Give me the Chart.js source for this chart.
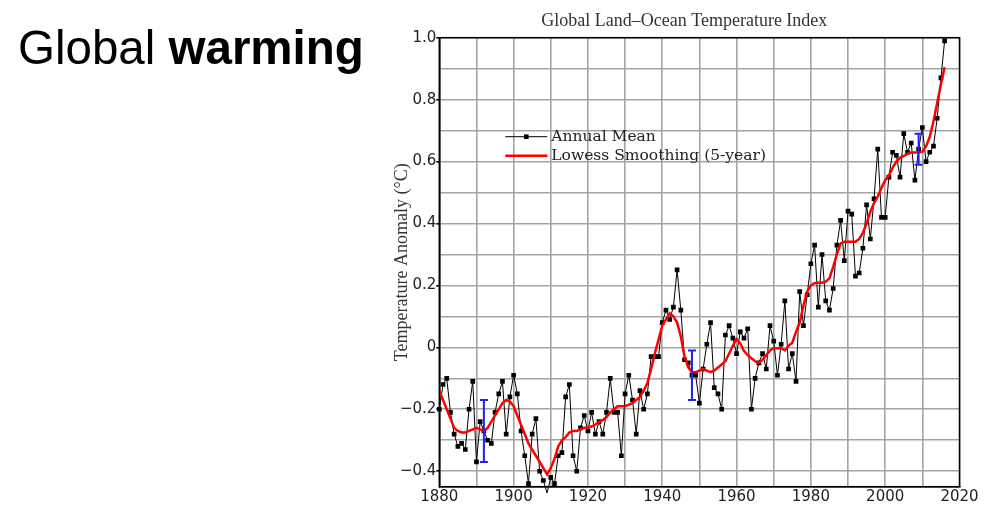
<!DOCTYPE html>
<html>
<head>
<meta charset="utf-8">
<script src="https://cdn.jsdelivr.net/npm/chart.js@4.4.1/dist/chart.umd.min.js"></script>
<style>
body { margin: 0; background: #fff; }
#wrap { position: relative; width: 986px; height: 515px; }
canvas { position: absolute; left: 0; top: 0; }
#heading { position: absolute; left: 18px; top: 24px; font-family: "Liberation Sans", Arial, sans-serif;
  font-size: 47.5px; line-height: 47px; color: #000; white-space: nowrap; }
</style>
</head>
<body>
<div id="wrap">
<canvas id="chart" width="986" height="515"></canvas>
<div id="heading">Global <b>warming</b></div>
</div>
<script>
// GISS global land-ocean temperature index, anomaly in deg C, 1880..2016
const firstYear = 1880;
const annualMean = [
  -0.20, -0.12, -0.10, -0.21, -0.28, -0.32, -0.31, -0.33, -0.20, -0.11, // 1880s
  -0.37, -0.24, -0.27, -0.30, -0.31, -0.21, -0.15, -0.11, -0.28, -0.16, // 1890s
  -0.09, -0.15, -0.27, -0.35, -0.44, -0.28, -0.23, -0.40, -0.43, -0.47, // 1900s
  -0.42, -0.44, -0.35, -0.34, -0.16, -0.12, -0.35, -0.40, -0.26, -0.22, // 1910s
  -0.27, -0.21, -0.28, -0.24, -0.28, -0.21, -0.10, -0.21, -0.21, -0.35, // 1920s
  -0.15, -0.09, -0.17, -0.28, -0.14, -0.20, -0.15, -0.03, -0.03, -0.03, // 1930s
  0.08, 0.12, 0.09, 0.13, 0.25, 0.12, -0.04, -0.05, -0.09, -0.09,       // 1940s
  -0.18, -0.07, 0.01, 0.08, -0.13, -0.15, -0.20, 0.04, 0.07, 0.03,      // 1950s
  -0.02, 0.05, 0.03, 0.06, -0.20, -0.10, -0.05, -0.02, -0.07, 0.07,     // 1960s
  0.02, -0.09, 0.01, 0.15, -0.07, -0.02, -0.11, 0.18, 0.07, 0.17,       // 1970s
  0.27, 0.33, 0.13, 0.30, 0.15, 0.12, 0.19, 0.33, 0.41, 0.28,           // 1980s
  0.44, 0.43, 0.23, 0.24, 0.32, 0.46, 0.35, 0.48, 0.64, 0.42,           // 1990s
  0.42, 0.55, 0.63, 0.62, 0.55, 0.69, 0.63, 0.66, 0.54, 0.64,           // 2000s
  0.71, 0.60, 0.63, 0.65, 0.74, 0.87, 0.99                              // 2010s
];
const lowess5 = [
  -0.14, -0.17, -0.20, -0.23, -0.26, -0.27, -0.275, -0.275, -0.27, -0.265,
  -0.26, -0.265, -0.27, -0.26, -0.24, -0.22, -0.20, -0.18, -0.17, -0.175,
  -0.19, -0.22, -0.25, -0.28, -0.31, -0.33, -0.35, -0.37, -0.39, -0.41,
  -0.39, -0.36, -0.32, -0.30, -0.29, -0.275, -0.27, -0.27, -0.265, -0.26,
  -0.26, -0.255, -0.25, -0.24, -0.235, -0.225, -0.21, -0.20, -0.19, -0.19,
  -0.19, -0.185, -0.18, -0.17, -0.16, -0.14, -0.115, -0.07, -0.02, 0.025,
  0.07, 0.09, 0.11, 0.10, 0.08, 0.035, -0.03, -0.065, -0.08, -0.08,
  -0.075, -0.07, -0.075, -0.08, -0.075, -0.065, -0.055, -0.045, -0.02, 0.005,
  0.027, 0.013, -0.012, -0.025, -0.035, -0.045, -0.05, -0.04, -0.025, -0.01,
  -0.003, -0.003, -0.003, -0.01, 0.005, 0.015, 0.05, 0.08, 0.135, 0.18,
  0.20, 0.207, 0.209, 0.209, 0.212, 0.223, 0.26, 0.30, 0.336, 0.341,
  0.341, 0.341, 0.341, 0.35, 0.37, 0.40, 0.438, 0.466, 0.487, 0.515,
  0.54, 0.555, 0.58, 0.60, 0.612, 0.618, 0.625, 0.629, 0.629, 0.629,
  0.632, 0.649, 0.68, 0.73, 0.79, 0.85, 0.905
];
// uncertainty bars
const errYears = [1892, 1948, 2009];
const errLow = [-0.37, -0.17, 0.59];
const errHigh = [-0.17, -0.01, 0.69];

const xGrid = [1880, 1890, 1900, 1910, 1920, 1930, 1940, 1950, 1960, 1970, 1980, 1990, 2000, 2010, 2020];
const xLabels = [1880, 1900, 1920, 1940, 1960, 1980, 2000, 2020];
const yGrid = [-0.4, -0.3, -0.2, -0.1, 0, 0.1, 0.2, 0.3, 0.4, 0.5, 0.6, 0.7, 0.8, 0.9, 1.0];
const yLabels = [-0.4, -0.2, 0, 0.2, 0.4, 0.6, 0.8, 1.0];

const chartTitle = 'Global Land\u2013Ocean Temperature Index';
const yTitle = 'Temperature Anomaly (\u00B0C)';
const legendNames = ['Annual Mean', 'Lowess Smoothing (5-year)'];

const annualPts = annualMean.map((v, i) => ({x: firstYear + i, y: v}));
const smoothPts = lowess5.map((v, i) => ({x: firstYear + i, y: v}));

const isLabelY = v => yLabels.some(l => Math.abs(l - v) < 1e-6);
const fmtY = v => v === 0 ? '0' : v.toFixed(1).replace('-', '\u2212');

const extras = {
  id: 'extras',
  afterDatasetsDraw(chart) {
    const {ctx, chartArea: a, scales: {x, y}} = chart;
    ctx.save();
    // blue uncertainty bars
    ctx.strokeStyle = '#1f1fff';
    ctx.lineWidth = 2;
    for (let i = 0; i < errYears.length; i++) {
      const px = x.getPixelForValue(errYears[i]);
      const t = y.getPixelForValue(errHigh[i]);
      const b = y.getPixelForValue(errLow[i]);
      ctx.beginPath();
      ctx.moveTo(px, t); ctx.lineTo(px, b);
      ctx.moveTo(px - 4, t); ctx.lineTo(px + 4, t);
      ctx.moveTo(px - 4, b); ctx.lineTo(px + 4, b);
      ctx.stroke();
    }
    // frame
    ctx.strokeStyle = '#000';
    ctx.lineWidth = 1.5;
    ctx.strokeRect(a.left, a.top, a.right - a.left, a.bottom - a.top);

    // legend
    const lx = a.left + 66, ly = a.top + 99;
    ctx.strokeStyle = '#000';
    ctx.lineWidth = 1;
    ctx.beginPath(); ctx.moveTo(lx, ly); ctx.lineTo(lx + 42, ly); ctx.stroke();
    ctx.fillStyle = '#000';
    ctx.fillRect(lx + 21 - 2.3, ly - 2.3, 4.6, 4.6);
    ctx.strokeStyle = '#ff0000';
    ctx.lineWidth = 2.5;
    ctx.beginPath(); ctx.moveTo(lx, ly + 19); ctx.lineTo(lx + 42, ly + 19); ctx.stroke();
    ctx.fillStyle = '#222';
    ctx.font = '15.5px "DejaVu Serif"';
    ctx.textBaseline = 'middle';
    ctx.textAlign = 'left';
    ctx.fillText(legendNames[0], lx + 46, ly);
    ctx.fillText(legendNames[1], lx + 46, ly + 19);

    // title
    ctx.font = '18px "Liberation Serif"';
    ctx.textAlign = 'center';
    ctx.textBaseline = 'alphabetic';
    ctx.fillStyle = '#333';
    ctx.fillText(chartTitle, a.left + 245, 25.5);
    ctx.restore();
  }
};

new Chart(document.getElementById('chart'), {
  type: 'line',
  data: {
    datasets: [
      {
        label: legendNames[1],
        data: smoothPts,
        borderColor: '#ff0000',
        borderWidth: 2.5,
        pointRadius: 0,
        tension: 0
      },
      {
        label: legendNames[0],
        data: annualPts,
        borderColor: '#000',
        borderWidth: 1,
        pointStyle: 'rect',
        pointRadius: 3.3,
        pointBackgroundColor: '#000',
        pointBorderWidth: 0,
        tension: 0,
        clip: 8
      }
    ]
  },
  options: {
    responsive: false,
    animation: false,
    devicePixelRatio: 1,
    layout: { padding: { left: 388, right: 26.5, top: 37.7, bottom: 0 } },
    plugins: {
      legend: { display: false },
      title: { display: false },
      tooltip: { enabled: false }
    },
    scales: {
      x: {
        type: 'linear',
        min: 1880,
        max: 2020,
        afterBuildTicks: s => { s.ticks = xGrid.map(v => ({value: v})); },
        afterFit: s => { s.height = 28.3; },
        grid: { color: '#a3a3a3', lineWidth: 1.6, drawTicks: false },
        border: { color: '#000', width: 1.5 },
        ticks: {
          padding: 1.3,
          color: '#222',
          font: { family: 'DejaVu Sans', size: 15 },
          maxRotation: 0,
          autoSkip: false,
          callback: v => xLabels.includes(v) ? String(v) : ''
        }
      },
      y: {
        min: -0.45,
        max: 1.0,
        afterBuildTicks: s => { s.ticks = yGrid.map(v => ({value: v})); },
        afterFit: s => { s.width = 51.3; },
        grid: {
          color: '#a3a3a3',
          lineWidth: 1.6,
          tickLength: 3,
          tickColor: c => isLabelY(c.tick.value) ? '#000' : 'rgba(0,0,0,0)'
        },
        border: { color: '#000', width: 1.5 },
        title: {
          display: true,
          text: yTitle,
          color: '#333',
          font: { family: 'Liberation Serif', size: 18 },
          padding: { top: 3, bottom: 0 }
        },
        ticks: {
          padding: 0,
          color: '#222',
          font: { family: 'DejaVu Sans', size: 15 },
          autoSkip: false,
          callback: v => isLabelY(v) ? fmtY(v) : ''
        }
      }
    }
  },
  plugins: [extras]
});
</script>
</body>
</html>
